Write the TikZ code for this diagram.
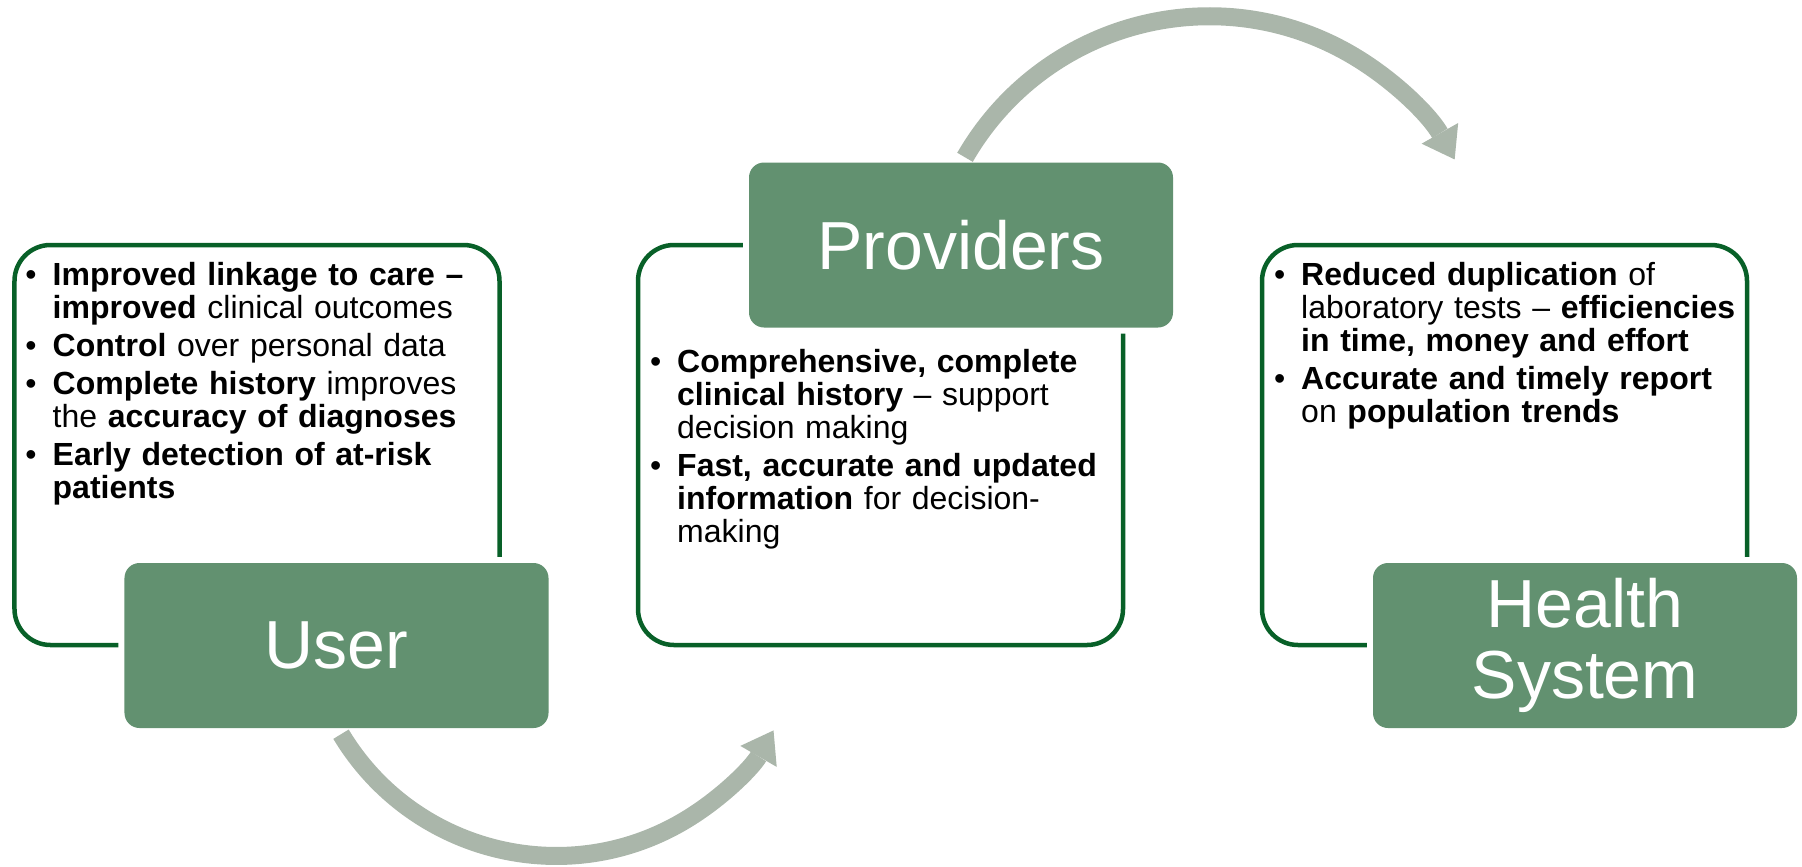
\documentclass[tikz,border=0pt]{standalone}
\usepackage{fontspec}
\setmainfont{Liberation Sans}
\usepackage{enumitem}
\usetikzlibrary{arrows.meta}

\definecolor{leaf}{RGB}{98,145,112}
\definecolor{rimgreen}{RGB}{8,96,40}
\definecolor{haze}{RGB}{170,182,170}
\newcommand\bodyfont{\fontsize{32bp}{33bp}\selectfont}
\newcommand\headfont{\fontsize{68bp}{71bp}\selectfont}
\setlist[itemize]{label=\textbullet, leftmargin=22bp, labelsep=16bp, itemsep=5bp, parsep=0pt, topsep=0pt, partopsep=0pt}

\tikzset{
  panel/.style={draw=rimgreen, line width=4.5bp, rounded corners=36bp, inner sep=0pt, outer sep=0pt, minimum width=485bp, minimum height=400bp},
  card/.style={fill=leaf, rounded corners=15bp, text=white, font=\headfont, align=center, inner sep=0pt, minimum width=424bp, minimum height=165bp, preaction={draw=white, line width=12bp}},
  points/.style={anchor=base west, inner sep=0pt, text width=470bp, align=left, font=\bodyfont},
  flow/.style={draw=haze, line width=18bp, -{Triangle[width=42bp,length=30bp,line width=0pt]}}
}

\begin{document}
\begin{tikzpicture}[x=1bp, y=1bp]
\useasboundingbox (0,0) rectangle (1802,-867);
% outlined panels
\node[panel] (userpanel) at (257,-445) {};
\node[panel] (provpanel) at (880.5,-445) {};
\node[panel] (syspanel) at (1504.5,-445) {};
% green headers
\node[card] (user) at (336.5,-645.5) {User};
\node[card] (prov) at (961,-245) {Providers};
\node[card] (sys) at (1585,-645.5) {Health\\System};
% bullet texts
\node[points] (usertext) at ([shift={(16,-7)}]userpanel.north west) {%
\begin{itemize}
\item \textbf{Improved linkage to care --\\improved} clinical outcomes
\item \textbf{Control} over personal data
\item \textbf{Complete history} improves\\the \textbf{accuracy of diagnoses}
\item \textbf{Early detection of at-risk\\patients}
\end{itemize}};
\node[points] (provtext) at ([shift={(17,-94)}]provpanel.north west) {%
\begin{itemize}
\item \textbf{Comprehensive, complete\\clinical history} -- support\\decision making
\item \textbf{Fast, accurate and updated\\information} for decision-\\making
\end{itemize}};
\node[points] (systext) at ([shift={(17,-7)}]syspanel.north west) {%
\begin{itemize}
\item \textbf{Reduced duplication} of\\laboratory tests -- \textbf{efficiencies\\in time, money and effort}
\item \textbf{Accurate and timely report}\\on \textbf{population trends}
\end{itemize}};
% curved arrows
\coordinate (lowtail) at ([shift={(4.5,-6)}]user.south);
\coordinate (hightail) at ([shift={(4,5)}]prov.north);
\draw[flow] (lowtail) arc[start angle=211, end angle=330, radius=251bp];
\draw[flow] (hightail) arc[start angle=150, end angle=29.5, radius=282bp];
\end{tikzpicture}
\end{document}
